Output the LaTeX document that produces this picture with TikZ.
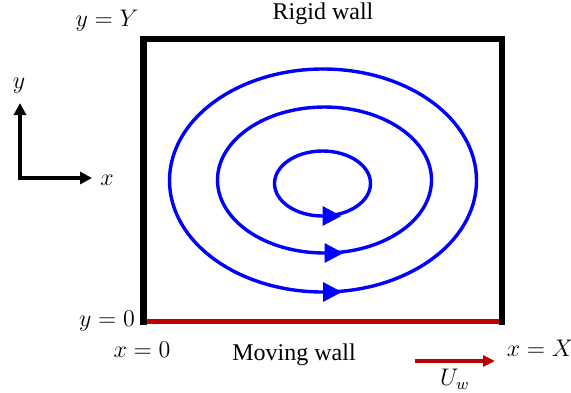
\documentclass[tikz,border=0pt]{standalone}
\usepackage{fontspec}
\setmainfont{Liberation Serif}
\usetikzlibrary{arrows.meta}
\definecolor{wallred}{RGB}{192, 0, 0}
\definecolor{flowblue}{RGB}{0, 0, 255}
\tikzset{
  every node/.style={
    font=\fontsize{12}{14}\selectfont
  },
  wall/.style={
    line width=3.3pt,
    draw=black,
    line join=miter
  },
  movingwall/.style={
    line width=2.8pt,
    draw=wallred
  },
  streamline/.style={
    line width=1.7pt,
    draw=flowblue
  },
  flowtip/.style={
    line width=1.7pt,
    draw=flowblue,
    -{Triangle[length=9.5pt, width=9.5pt, fill=flowblue]}
  },
  axisarrow/.style={
    line width=1.6pt,
    {Triangle[length=6pt, width=6pt]}-{Triangle[length=6pt, width=6pt]}
  },
  velarrow/.style={
    line width=1.6pt,
    draw=wallred,
    -{Triangle[length=6pt, width=5.5pt, fill=wallred]}
  }
}

\begin{document}
\begin{tikzpicture}[x=0.5pt, y=-0.5pt]
  \useasboundingbox (0,0) rectangle (571,392);

  % cavity corners
  \coordinate (bl) at (143.5, 321.5);
  \coordinate (tl) at (143.5, 39);
  \coordinate (tr) at (502, 39);
  \coordinate (br) at (502, 321.5);
  \coordinate (blw) at (143.5, 325);
  \coordinate (brw) at (502, 325);

  \draw[movingwall] (bl) -- (br);
  \draw[wall] (blw) -- (tl) -- (tr) -- (brw);

  % streamlines
  \foreach \cx/\cy/\rx/\ry in {323/180.5/153.5/111.5, 324.5/180/107/73, 322.5/183.5/48/32.5} {
    \draw[streamline] (\cx, \cy) ellipse [x radius={\rx*0.5pt}, y radius={\ry*0.5pt}];
    \draw[flowtip] (\cx, \cy+\ry) -- (\cx+19, \cy+\ry);
  }

  % labels
  \node (rigid) at (323, 14) {Rigid wall};
  \node (ytop) at (107, 21) {$y = Y$};
  \node (ybot) at (107, 321) {$y = 0$};
  \node (xzero) at (142, 350) {$x = 0$};
  \node (xend) at (540, 348) {$x = X$};
  \node (moving) at (294, 355) {Moving wall};
  \node (uw) at (455, 379) {$U_w$};

  % coordinate axes
  \coordinate (origin) at (20, 178);
  \coordinate (yaxis) at (20, 103);
  \coordinate (xaxis) at (92, 178);
  \draw[axisarrow] (yaxis) -- (origin) -- (xaxis);
  \node (ylab) at (19, 86) {$y$};
  \node (xlab) at (107, 180) {$x$};

  % wall velocity
  \coordinate (vstart) at (415, 361);
  \coordinate (vend) at (495, 361);
  \draw[velarrow] (vstart) -- (vend);
\end{tikzpicture}
\end{document}
